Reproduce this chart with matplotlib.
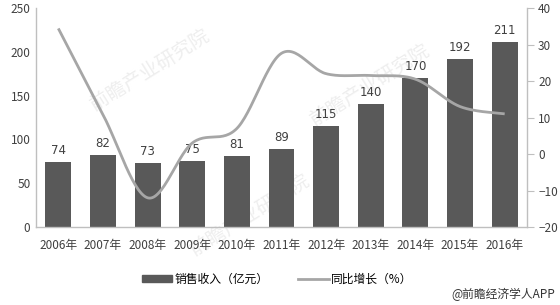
import numpy as np
import matplotlib
matplotlib.use("Agg")
import matplotlib.pyplot as plt
from matplotlib.lines import Line2D
from matplotlib.patches import Patch

plt.rcParams['font.family'] = ['Noto Sans CJK SC', 'DejaVu Sans']

years = ["2006年", "2007年", "2008年", "2009年", "2010年", "2011年",
         "2012年", "2013年", "2014年", "2015年", "2016年"]
revenue = [74, 82, 73, 75, 81, 89, 115, 140, 170, 192, 211]
growth = [34.4, 10.8, -12.0, 3.0, 7.0, 27.6, 22.0, 21.5, 20.5, 13.0, 11.0]
bar_legend = "销售收入（亿元）"
line_legend = "同比增长（%）"
left_ticks = [0, 50, 100, 150, 200, 250]
right_ticks = [-20, -10, 0, 10, 20, 30, 40]

BAR_C = "#595959"
LINE_C = "#a6a6a6"
SPINE_C = "#bfbfbf"
TXT_C = "#404040"


def smooth(xs, ys, n=30):
    # Catmull-Rom style smoothing (like Excel's smoothed line)
    xs = np.asarray(xs, float)
    ys = np.asarray(ys, float)
    px = np.concatenate([[xs[0]], xs, [xs[-1]]])
    py = np.concatenate([[ys[0]], ys, [ys[-1]]])
    outx, outy = [], []
    for i in range(1, len(px) - 2):
        p0 = np.array([px[i - 1], py[i - 1]])
        p1 = np.array([px[i], py[i]])
        p2 = np.array([px[i + 1], py[i + 1]])
        p3 = np.array([px[i + 2], py[i + 2]])
        c1 = p1 + (p2 - p0) / 6.0
        c2 = p2 - (p3 - p1) / 6.0
        t = np.linspace(0, 1, n)[:, None]
        b = ((1 - t) ** 3) * p1 + 3 * ((1 - t) ** 2) * t * c1 + 3 * (1 - t) * t ** 2 * c2 + t ** 3 * p2
        outx.extend(b[:, 0])
        outy.extend(b[:, 1])
    return np.array(outx), np.array(outy)


fig = plt.figure(figsize=(5.6, 3.05), dpi=100)
ax = fig.add_axes([36 / 560, 78 / 305, (527 - 36) / 560, 219 / 305])
x = np.arange(len(years))

# faint watermark, drawn beneath the axes
for (wx, wy) in [(150, 70), (370, 85), (250, 215)]:
    fig.text(wx / 560, 1 - wy / 305, "前瞻产业研究院", rotation=32, fontsize=14,
             color="#eeeeee", ha="center", va="center", zorder=-1)

ax.bar(x, revenue, width=0.58, color=BAR_C, zorder=2)
for xi, v in zip(x, revenue):
    ax.text(xi, v + 6, str(v), ha="center", va="bottom", fontsize=8.5,
            color=TXT_C, family="DejaVu Sans")

ax.set_xlim(-0.5, len(years) - 0.5)
ax.set_ylim(0, 250)
ax.set_yticks(left_ticks)
ax.set_xticks(x)
ax.set_xticklabels(years, fontsize=8.5, color=TXT_C)
ax.tick_params(axis="y", length=0, labelsize=8.5, labelcolor=TXT_C, pad=4)
ax.tick_params(axis="x", length=0, pad=9)
for s in ["top", "right"]:
    ax.spines[s].set_visible(False)
for s in ["left", "bottom"]:
    ax.spines[s].set_color(SPINE_C)
    ax.spines[s].set_linewidth(1.0)
ax.patch.set_alpha(0)

ax2 = ax.twinx()
sx, sy = smooth(x, growth)
ax2.plot(sx, sy, color=LINE_C, lw=2.0, solid_capstyle="butt", zorder=3)
ax2.set_ylim(-20, 40)
ax2.set_yticks(right_ticks)
ax2.tick_params(axis="y", length=5, color=SPINE_C, labelsize=8.5, labelcolor=TXT_C, pad=3)
for s in ["top", "left", "bottom"]:
    ax2.spines[s].set_visible(False)
ax2.spines["right"].set_color(SPINE_C)
ax2.spines["right"].set_linewidth(1.0)
ax2.patch.set_alpha(0)

handles = [Patch(color=BAR_C, label=bar_legend),
           Line2D([0], [0], color=LINE_C, lw=2.0, label=line_legend)]
fig.legend(handles=handles, loc="center", bbox_to_anchor=(277 / 560, 1 - 279 / 305),
           ncol=2, frameon=False, fontsize=8.5, handlelength=2.6, handleheight=0.5,
           handletextpad=0.2, columnspacing=2.5)

fig.text(555 / 560, 1 - 294 / 305, "@前瞻经济学人APP", ha="right", va="center",
         fontsize=8.5, color="#333333")

fig.savefig("out.png", dpi=100, facecolor="white")
